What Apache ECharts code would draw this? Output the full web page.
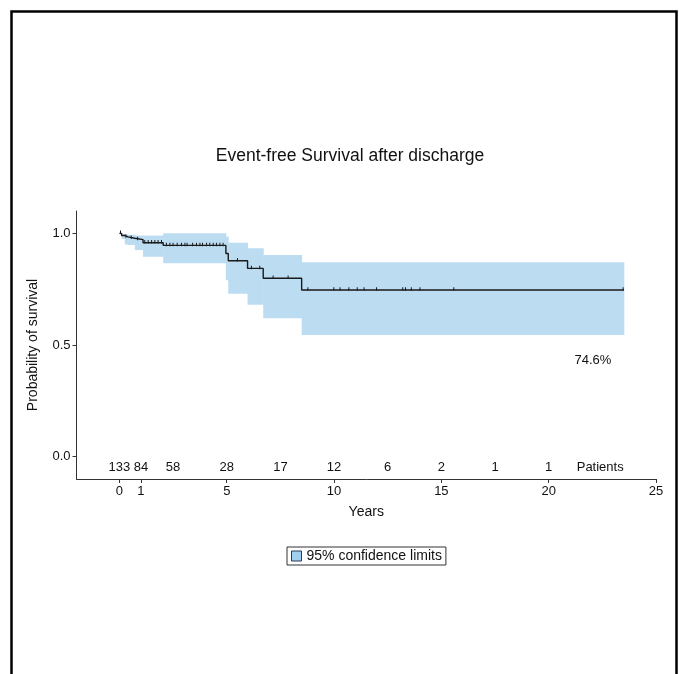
<!DOCTYPE html>
<html>
<head>
<meta charset="utf-8">
<script src="https://cdn.jsdelivr.net/npm/echarts@6/dist/echarts.min.js"></script>
<style>html,body{margin:0;padding:0;background:#fff}#c{width:679px;height:674px}</style>
</head>
<body>
<div id="c"></div>
<script>
// Kaplan-Meier steps (years, survival) and 95% CI limits
const eventTimes = [0, 0.1, 0.25, 0.4, 0.72, 1.1, 2.04, 4.96, 5.07, 5.97, 6.70, 8.49, 23.5];
const survival   = [1.0, 0.990, 0.984, 0.978, 0.972, 0.958, 0.946, 0.910, 0.877, 0.843, 0.799, 0.746, 0.746];
const upperCI    = [1.0, 0.998, 0.995, 0.993, 0.990, 0.990, 1.0, 0.985, 0.958, 0.933, 0.903, 0.870, 0.870];
const lowerCI    = [1.0, 0.975, 0.950, 0.948, 0.925, 0.895, 0.866, 0.790, 0.730, 0.680, 0.620, 0.545, 0.545];
const censorTimes = [0.05, 0.3, 0.55, 0.85, 1.18, 1.34, 1.50, 1.65, 1.80, 1.96,
  2.19, 2.35, 2.50, 2.69, 2.89, 3.05, 3.15, 3.41, 3.59, 3.75, 3.87, 4.06, 4.21, 4.37, 4.52, 4.68, 4.83,
  5.5, 6.15, 6.54, 7.16, 7.86, 8.78, 9.99, 10.28, 10.69, 11.08, 11.4, 11.98, 13.2, 13.33, 13.6, 14.0, 15.58, 23.47];
const riskTimes = [0, 1, 2.5, 5, 7.5, 10, 12.5, 15, 17.5, 20];
const riskCounts = ['133', '84', '58', '28', '17', '12', '6', '2', '1', '1'];
const xTicks = [0, 1, 5, 10, 15, 20, 25];
const yTicks = [0, 0.5, 1.0];
const finalLabel = '74.6%';

function survAt(t) {
  let s = survival[0];
  for (let i = 0; i < eventTimes.length; i++) { if (eventTimes[i] <= t) s = survival[i]; }
  return s;
}

const FONT = '"Liberation Sans", Arial, sans-serif';
const BAND = '#bcdcf2';

// band segments: [t_i, t_{i+1}, lower_i, upper_i]
const bandData = [];
for (let i = 0; i < eventTimes.length - 1; i++) {
  bandData.push([eventTimes[i], eventTimes[i + 1], lowerCI[i], upperCI[i]]);
}
const textData = riskTimes.map((t, i) => [t, -0.05, riskCounts[i]])
  .concat([[22.4, -0.05, 'Patients'], [22.06, 0.433, finalLabel]]);

const chart = echarts.init(document.getElementById('c'));
chart.setOption({
  backgroundColor: '#fff',
  animation: false,
  textStyle: { fontFamily: FONT },
  title: {
    text: 'Event-free Survival after discharge',
    left: 345, top: 142, textAlign: 'center',
    textStyle: { fontFamily: FONT, fontSize: 17.5, fontWeight: 'normal', color: '#111' }
  },
  graphic: [{
    type: 'rect', shape: { x: 11.5, y: 11.5, width: 665, height: 700 },
    style: { fill: 'none', stroke: '#000', lineWidth: 2.5 }, silent: true
  }],
  legend: {
    left: 287, top: 547,
    data: [{ name: '95% confidence limits', icon: 'rect',
      itemStyle: { color: '#9fd0ef', borderColor: '#2a3a55', borderWidth: 1 } }],
    itemWidth: 10, itemHeight: 10, itemGap: 5,
    borderColor: '#333', borderWidth: 1, padding: [2, 4, 2, 4],
    textStyle: { fontFamily: FONT, fontSize: 14, color: '#111' }
  },
  grid: { left: 76.5, right: 23, top: 211, bottom: 195 },
  xAxis: {
    type: 'value', min: -2, max: 25,
    name: 'Years', nameLocation: 'middle', nameGap: 26,
    nameTextStyle: { fontFamily: FONT, fontSize: 14, color: '#111' },
    axisLine: { show: true, onZero: false, lineStyle: { color: '#333', width: 1 } },
    axisTick: { show: true, customValues: xTicks, length: 4, lineStyle: { color: '#333' } },
    axisLabel: { customValues: xTicks, margin: 6, fontFamily: FONT, fontSize: 13, color: '#111' },
    splitLine: { show: false }
  },
  yAxis: {
    type: 'value', min: -0.1, max: 1.1,
    name: 'Probability of survival', nameLocation: 'middle', nameGap: 36,
    nameTextStyle: { fontFamily: FONT, fontSize: 14, color: '#111' },
    axisLine: { show: true, onZero: false, lineStyle: { color: '#333', width: 1 } },
    axisTick: { show: true, customValues: yTicks, length: 4, lineStyle: { color: '#333' } },
    axisLabel: { customValues: yTicks, margin: 6, fontFamily: FONT, fontSize: 13, color: '#111',
      formatter: v => v.toFixed(1) },
    splitLine: { show: false }
  },
  series: [
    {
      name: '95% confidence limits', type: 'custom', silent: true,
      itemStyle: { color: '#9fd0ef' },
      renderItem: (params, api) => {
        const p0 = api.coord([api.value(0), api.value(3)]);
        const p1 = api.coord([api.value(1), api.value(2)]);
        return { type: 'rect',
          shape: { x: p0[0], y: p0[1], width: p1[0] - p0[0] + 0.5, height: p1[1] - p0[1] },
          style: { fill: BAND } };
      },
      encode: { x: [0, 1], y: [2, 3] },
      data: bandData
    },
    {
      name: 'survival', type: 'line', step: 'end', symbol: 'none', silent: true,
      lineStyle: { color: '#1a1a1a', width: 1.4 },
      data: eventTimes.map((t, i) => [t, survival[i]])
    },
    {
      name: 'censored', type: 'scatter', symbol: 'rect', symbolSize: [1, 3.5], symbolOffset: [0, -1], silent: true,
      itemStyle: { color: '#1a1a1a', opacity: 1 },
      data: censorTimes.map(t => [t, survAt(t)])
    },
    {
      name: 'texts', type: 'custom', silent: true,
      renderItem: (params, api) => {
        const p = api.coord([api.value(0), api.value(1)]);
        return { type: 'text', x: p[0], y: p[1],
          style: { text: textData[params.dataIndex][2], fontFamily: FONT, fontSize: 13,
            fill: '#111', align: 'center', verticalAlign: 'middle' } };
      },
      data: textData.map(d => [d[0], d[1]])
    }
  ]
});
</script>
</body>
</html>
